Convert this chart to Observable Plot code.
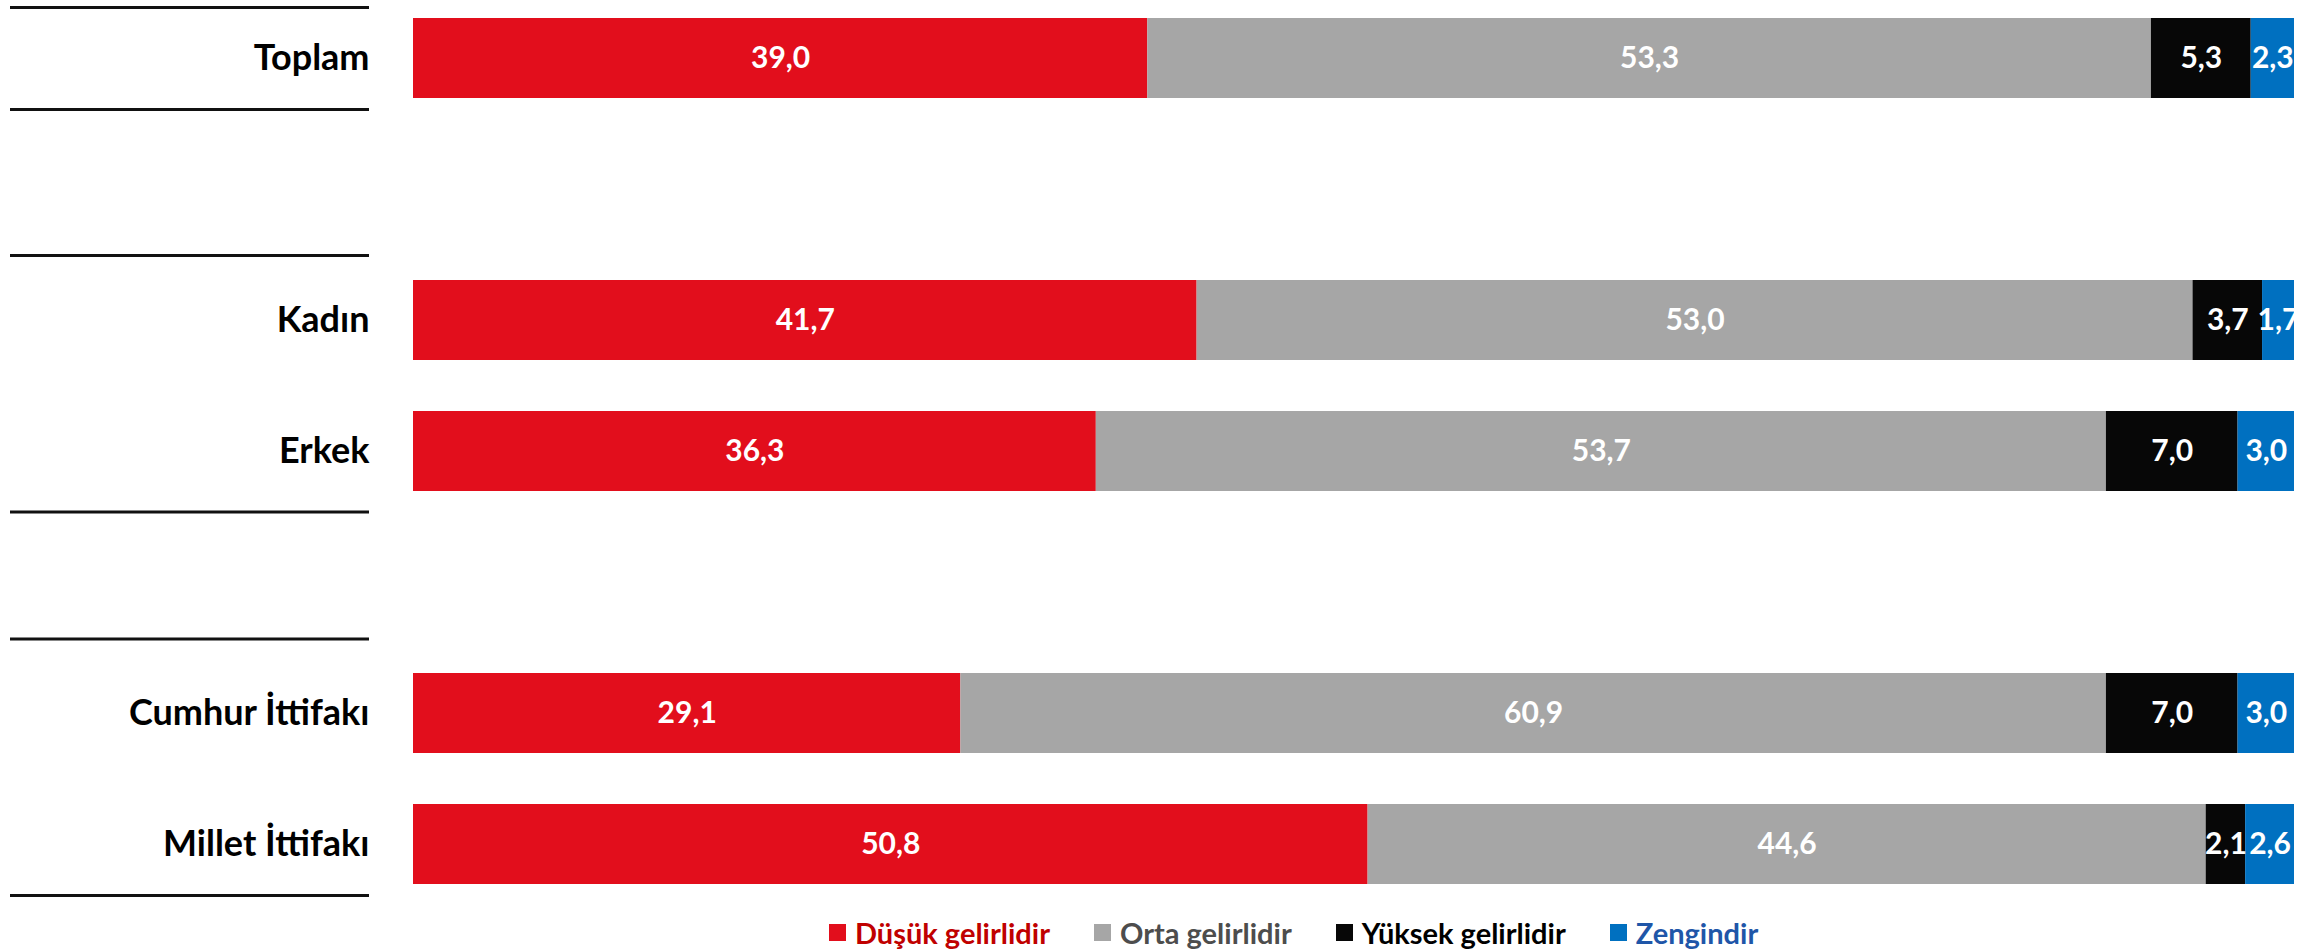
<!DOCTYPE html>
<html>
<head>
<meta charset="utf-8">
<script src="https://cdn.jsdelivr.net/npm/d3@7"></script>
<script src="https://cdn.jsdelivr.net/npm/@observablehq/plot@0.6"></script>
<style>
  html, body { margin: 0; padding: 0; background: #fff; }
  body { font-family: Lato, "Open Sans", sans-serif; width: 2321px; height: 950px; overflow: hidden; }
  #legend { display: flex; align-items: center; margin-left: 829px; height: 45px; padding-top: 5px; }
  .item { display: flex; align-items: center; margin-right: 44px; font-weight: bold; font-size: 29px; }
  .sw { width: 17px; height: 17px; margin-right: 9px; }
</style>
</head>
<body>
<div id="chart"></div>
<div id="legend"></div>
<script>
const categories = ["Toplam", "Kadın", "Erkek", "Cumhur İttifakı", "Millet İttifakı"];
const yDomain = ["Toplam", "_gap1", "Kadın", "Erkek", "_gap2", "Cumhur İttifakı", "Millet İttifakı"];
const series = ["Düşük gelirlidir", "Orta gelirlidir", "Yüksek gelirlidir", "Zengindir"];
const dusuk  = [39.0, 41.7, 36.3, 29.1, 50.8];
const orta   = [53.3, 53.0, 53.7, 60.9, 44.6];
const yuksek = [5.3, 3.7, 7.0, 7.0, 2.1];
const zengin = [2.3, 1.7, 3.0, 3.0, 2.6];
const seriesColors = ["#E20E1C", "#A6A6A6", "#070707", "#0070C0"];
const legendTextColors = ["#C00000", "#4D4D4D", "#000000", "#1F56A8"];

const values = [dusuk, orta, yuksek, zengin];
const data = [];
categories.forEach((c, i) => {
  series.forEach((s, j) => data.push({cat: c, series: s, value: values[j][i]}));
});
const fmt = v => v.toFixed(1).replace(".", ",");

const stackOpts = {x: "value", y: "cat", z: "series", offset: "normalize"};

const rule = (cat, dy) => Plot.ruleY([cat], {
  stroke: "#111", strokeWidth: 3, dy,
  insetLeft: -403, insetRight: 1925
});

const chart = Plot.plot({
  width: 2321,
  height: 905,
  marginLeft: 413,
  marginRight: 27,
  marginTop: 16,
  marginBottom: 20,
  style: {fontFamily: "Lato, 'Open Sans', sans-serif", fontSize: "36px", fontWeight: "bold", color: "#000", background: "#fff"},
  x: {axis: null, domain: [0, 1]},
  y: {domain: yDomain, paddingInner: 0.3916, paddingOuter: 0, tickSize: 0, tickPadding: 44,
      tickFormat: d => d.startsWith("_") ? "" : d, label: null},
  color: {domain: series, range: seriesColors},
  marks: [
    Plot.barX(data, Plot.stackX({...stackOpts, fill: "series"})),
    Plot.text(data, Plot.stackX({...stackOpts, text: d => fmt(d.value), fill: "white",
      fontSize: 30, fontWeight: "bold", clip: true})),
    rule("Toplam", -51),
    rule("Toplam", 51),
    rule("Kadın", -65),
    rule("Erkek", 60.5),
    rule("Cumhur İttifakı", -74.5),
    rule("Millet İttifakı", 51)
  ]
});
document.getElementById("chart").appendChild(chart);

const legend = document.getElementById("legend");
series.forEach((s, i) => {
  const item = document.createElement("div");
  item.className = "item";
  const sw = document.createElement("div");
  sw.className = "sw";
  sw.style.background = seriesColors[i];
  const t = document.createElement("span");
  t.textContent = s;
  t.style.color = legendTextColors[i];
  item.appendChild(sw);
  item.appendChild(t);
  legend.appendChild(item);
});
</script>
</body>
</html>
